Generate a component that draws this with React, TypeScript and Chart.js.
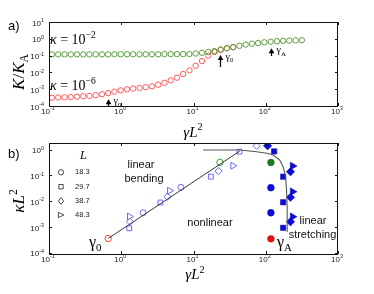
import React, { useEffect, useRef } from 'react';
import { Chart, registerables } from 'chart.js';
Chart.register(...registerables);

const SERIF = '"Liberation Serif","DejaVu Serif",serif';
const SANS = '"Liberation Sans","DejaVu Sans",Arial,sans-serif';

// ---------- panel a data ----------
const gammaL2 = [0.110, 0.134, 0.164, 0.200, 0.244, 0.298, 0.363, 0.443, 0.541, 0.660, 0.805, 0.983, 1.20, 1.46, 1.79, 2.18, 2.66, 3.25, 3.96, 4.83, 5.90, 7.19, 8.78, 10.7, 13.1, 16.0, 19.5, 23.8, 29.0, 35.4, 43.2, 52.7, 64.3, 78.4, 95.7, 117, 143, 174, 212, 259, 316];
const kRatioKappa2 = [0.118, 0.118, 0.118, 0.118, 0.118, 0.118, 0.118, 0.118, 0.118, 0.118, 0.12, 0.12, 0.12, 0.12, 0.12, 0.12, 0.12, 0.12, 0.123, 0.123, 0.123, 0.123, 0.124, 0.133, 0.147, 0.164, 0.188, 0.231, 0.275, 0.325, 0.383, 0.452, 0.511, 0.562, 0.620, 0.672, 0.720, 0.750, 0.781, 0.803, 0.826];
const kRatioKappa6 = [3.1e-4, 3.2e-4, 3.3e-4, 3.4e-4, 3.6e-4, 3.8e-4, 4.0e-4, 4.4e-4, 5.0e-4, 5.9e-4, 7.1e-4, 8.5e-4, 9.9e-4, 1.1e-3, 1.19e-3, 1.32e-3, 1.47e-3, 1.85e-3, 2.4e-3, 3.34e-3, 4.84e-3, 8.0e-3, 1.33e-2, 2.44e-2, 4.77e-2, 0.100, 0.164, 0.215, 0.272, 0.312];
const xDecades = [0.1, 1, 10, 100, 1000];
const yDecadesA = [1e-4, 1e-3, 1e-2, 1e-1, 1, 10];
const yDecadesB = [1e-4, 1e-3, 1e-2, 1e-1, 1];
// arrows in panel a: x, tail y, tip y, subscript
const arrowX = [0.66, 23, 118];
const arrowTail = [1e-4, 0.021, 0.095];
const arrowTip = [2.5e-4, 0.109, 0.272];
const arrowSub = ['0', '0', 'A'];

// ---------- panel b data ----------
const legendL = ['18.3', '29.7', '38.7', '48.3'];
const openCircleX = [2.01, 6.70];
const openCircleY = [3.57e-3, 3.45e-2];
const openSquareX = [1.29, 3.48, 17.4, 43.2];
const openSquareY = [8.9e-4, 8.9e-3, 8.9e-2, 0.83];
const openDiamondX = [1.32, 4.35, 22.3, 74.8];
const openDiamondY = [1.6e-3, 1.49e-2, 0.148, 1.40];
const openTriX = [1.30, 4.67, 35.1];
const openTriY = [2.55e-3, 2.55e-2, 0.237];
const gamma0Red = { x: 0.66, y: 3.6e-4 };
const gamma0Green = { x: 23.2, y: 0.32 };
const filledCircleX = [117.8, 117.8];
const filledCircleY = [3.33e-2, 3.57e-3];
const gammaARed = { x: 117.8, y: 3.5e-4 };
const gammaAGreen = { x: 117.8, y: 0.316 };
const filledSquareX = [130.6, 174, 174, 174];
const filledSquareY = [0.85, 8.9e-2, 9.1e-3, 9.3e-4];
const filledDiamondX = [106, 220, 220, 220];
const filledDiamondY = [1.41, 0.139, 1.41e-2, 1.6e-3];
const filledTriX = [235, 235, 235];
const filledTriY = [0.231, 2.33e-2, 2.5e-3];
const bendingLineX = [0.66, 43.9];
const bendingLineY = [3.6e-4, 0.88];
const stretchCurveX = [13.6, 43.9, 74.6, 103.5, 126.5, 156.6, 174, 188, 194, 197.9, 197.9];
const stretchCurveY = [0.96, 0.96, 0.83, 0.72, 0.62, 0.39, 0.217, 0.089, 0.027, 6e-3, 6.4e-4];

const pts = (xs: number[], ys: number[]) => xs.map((x, i) => ({ x, y: ys[i] }));

type Part = { t: string; it?: boolean; sup?: boolean; sub?: boolean; fam?: string };
function drawParts(ctx: CanvasRenderingContext2D, parts: Part[], x: number, y: number, size: number, fam: string, align: 'left' | 'center' | 'right' = 'left', color = '#000') {
  const fontOf = (p: Part) => `${p.it ? 'italic ' : ''}${p.sup || p.sub ? (size * 0.68).toFixed(1) : size}px ${p.fam || fam}`;
  const ws: number[] = [];
  let w = 0;
  for (const p of parts) { ctx.font = fontOf(p); const m = ctx.measureText(p.t).width; ws.push(m); w += m; }
  let cx = align === 'left' ? x : align === 'center' ? x - w / 2 : x - w;
  ctx.fillStyle = color; ctx.textAlign = 'left'; ctx.textBaseline = 'alphabetic';
  parts.forEach((p, i) => {
    ctx.font = fontOf(p);
    const dy = p.sup ? -size * 0.42 : p.sub ? size * 0.25 : 0;
    ctx.fillText(p.t, cx, y + dy);
    cx += ws[i];
  });
}

function drawFrame(chart: any, yDec: number[]) {
  const { ctx, chartArea: a, scales } = chart;
  ctx.save();
  ctx.strokeStyle = '#111'; ctx.lineWidth = 1;
  ctx.strokeRect(a.left + 0.5, a.top + 0.5, a.right - a.left - 1, a.bottom - a.top);
  ctx.beginPath();
  for (const v of xDecades) {
    const px = Math.round(scales.x.getPixelForValue(v)) + 0.5;
    ctx.moveTo(px, a.bottom); ctx.lineTo(px, a.bottom - 3);
    ctx.moveTo(px, a.top); ctx.lineTo(px, a.top + 3);
  }
  for (const v of yDec) {
    const py = Math.round(scales.y.getPixelForValue(v)) + 0.5;
    ctx.moveTo(a.left, py); ctx.lineTo(a.left + 3, py);
    ctx.moveTo(a.right, py); ctx.lineTo(a.right - 3, py);
  }
  ctx.stroke();
  // tick labels
  for (const v of xDecades) {
    const px = scales.x.getPixelForValue(v);
    const e = Math.round(Math.log10(v));
    drawParts(ctx, [{ t: '10' }, { t: String(e), sup: true }], px - 1, a.bottom + 7.5, 8, SANS, 'center', '#222');
  }
  for (const v of yDec) {
    const py = scales.y.getPixelForValue(v);
    const e = Math.round(Math.log10(v));
    drawParts(ctx, [{ t: '10' }, { t: String(e), sup: true }], a.left - 5, py + 3.5, 8, SANS, 'right', '#222');
  }
  ctx.restore();
}

function drawArrow(ctx: CanvasRenderingContext2D, x: number, yTail: number, yTip: number) {
  ctx.save();
  ctx.strokeStyle = '#000'; ctx.fillStyle = '#000'; ctx.lineWidth = 1.3;
  ctx.beginPath(); ctx.moveTo(x, yTail); ctx.lineTo(x, yTip + 4); ctx.stroke();
  ctx.beginPath(); ctx.moveTo(x, yTip); ctx.lineTo(x - 2.8, yTip + 5); ctx.lineTo(x + 2.8, yTip + 5); ctx.closePath(); ctx.fill();
  ctx.restore();
}

function rotatedTitle(ctx: CanvasRenderingContext2D, parts: Part[], cx: number, cy: number, size: number) {
  ctx.save();
  ctx.translate(cx, cy);
  ctx.rotate(-Math.PI / 2);
  drawParts(ctx, parts, 0, 0, size, SERIF, 'center');
  ctx.restore();
}

const decorA = {
  id: 'decorA',
  afterDraw(chart: any) {
    const { ctx, scales } = chart;
    drawFrame(chart, yDecadesA);
    ctx.save();
    drawParts(ctx, [{ t: 'a)' }], 8, 30, 13, SANS);
    rotatedTitle(ctx, [{ t: 'K', it: true }, { t: '/' }, { t: 'K', it: true }, { t: 'A', sub: true }], 24, 72, 17);
    drawParts(ctx, [{ t: 'γ', it: true }, { t: 'L', it: true }, { t: '2', sup: true }], 193, 136.5, 15, SERIF, 'center');
    drawParts(ctx, [{ t: 'κ', it: true }, { t: ' = 10' }, { t: '−2', sup: true }], 50, 44, 14, SERIF);
    drawParts(ctx, [{ t: 'κ', it: true }, { t: ' = 10' }, { t: '−6', sup: true }], 50, 89.5, 14, SERIF);
    arrowX.forEach((xv, i) => {
      const px = Math.round(scales.x.getPixelForValue(xv)) + 0.5;
      const yT = scales.y.getPixelForValue(arrowTail[i]);
      const yP = scales.y.getPixelForValue(arrowTip[i]);
      drawArrow(ctx, px, yT, yP);
      drawParts(ctx, [{ t: 'γ' }, { t: arrowSub[i], sub: true }], px + 5, yP + 5, 10, SERIF);
    });
    ctx.restore();
  },
};

function marker(ctx: CanvasRenderingContext2D, kind: string, x: number, y: number, r: number) {
  ctx.beginPath();
  if (kind === 'circle') ctx.arc(x, y, r, 0, Math.PI * 2);
  else if (kind === 'square') ctx.rect(x - r, y - r, 2 * r, 2 * r);
  else if (kind === 'diamond') { ctx.moveTo(x, y - r * 1.3); ctx.lineTo(x + r, y); ctx.lineTo(x, y + r * 1.3); ctx.lineTo(x - r, y); ctx.closePath(); }
  else { ctx.moveTo(x - r, y - r); ctx.lineTo(x + r * 1.1, y); ctx.lineTo(x - r, y + r); ctx.closePath(); }
  ctx.stroke();
}

const decorB = {
  id: 'decorB',
  afterDraw(chart: any) {
    const { ctx } = chart;
    drawFrame(chart, yDecadesB);
    ctx.save();
    drawParts(ctx, [{ t: 'b)' }], 8, 158, 13, SANS);
    rotatedTitle(ctx, [{ t: 'κ', it: true }, { t: 'L', it: true }, { t: '2', sup: true }], 24, 201, 17);
    drawParts(ctx, [{ t: 'γ', it: true }, { t: 'L', it: true }, { t: '2', sup: true }], 195, 279, 15, SERIF, 'center');
    // legend
    drawParts(ctx, [{ t: 'L', it: true }], 80, 159, 12, SERIF);
    const kinds = ['circle', 'square', 'diamond', 'tri'];
    const ly = [172.3, 186.7, 201, 215];
    ctx.strokeStyle = '#222'; ctx.lineWidth = 0.8;
    kinds.forEach((k, i) => {
      marker(ctx, k, 61, ly[i], k === 'circle' ? 2.6 : k === 'square' ? 2.2 : 2.6);
      ctx.font = `7.5px ${SANS}`; ctx.fillStyle = '#222'; ctx.textBaseline = 'middle'; ctx.textAlign = 'left';
      ctx.fillText(legendL[i], 75, ly[i]);
    });
    ctx.textBaseline = 'alphabetic';
    ctx.font = `11px ${SANS}`; ctx.fillStyle = '#111'; ctx.textAlign = 'center';
    ctx.fillText('linear', 141, 168);
    ctx.fillText('bending', 144, 182);
    ctx.fillText('nonlinear', 210, 225.5);
    ctx.fillText('linear', 313, 224);
    ctx.fillText('stretching', 312.5, 238);
    drawParts(ctx, [{ t: 'γ' }, { t: '0', sub: true }], 89, 247, 16, SERIF);
    drawParts(ctx, [{ t: 'γ' }, { t: 'A', sub: true }], 277, 247, 16, SERIF);
    ctx.restore();
  },
};

const baseScales = (yMin: number, yMax: number, xH: number) => ({
  x: {
    type: 'logarithmic' as const, min: 0.1, max: 1000,
    grid: { display: false }, border: { display: false }, ticks: { display: false },
    afterFit: (s: any) => { s.height = xH; },
  },
  y: {
    type: 'logarithmic' as const, min: yMin, max: yMax,
    grid: { display: false }, border: { display: false }, ticks: { display: false },
    afterFit: (s: any) => { s.width = 41; },
  },
});

const commonOpts = {
  responsive: false, animation: false as const, devicePixelRatio: 1,
  plugins: { legend: { display: false }, tooltip: { enabled: false } },
  events: [] as any[],
};

const openDs = (data: any[], style: string, color: string, r: number, rot = 0) => ({
  data, pointStyle: style, pointRadius: r, pointRotation: rot, pointBorderWidth: 1,
  pointBorderColor: color, pointBackgroundColor: 'rgba(0,0,0,0)', showLine: false,
});
const filledDs = (data: any[], style: string, color: string, r: number, rot = 0) => ({
  data, pointStyle: style, pointRadius: r, pointRotation: rot, pointBorderWidth: 0.5,
  pointBorderColor: color, pointBackgroundColor: color, showLine: false,
});

export default function App() {
  const refA = useRef<HTMLCanvasElement>(null);
  const refB = useRef<HTMLCanvasElement>(null);
  useEffect(() => {
    const chartA = new Chart(refA.current!, {
      type: 'scatter',
      data: {
        datasets: [
          openDs(pts(gammaL2, kRatioKappa2), 'circle', '#5a9e3a', 2.7) as any,
          openDs(pts(gammaL2.slice(0, kRatioKappa6.length), kRatioKappa6), 'circle', '#ff5a5a', 2.7) as any,
        ],
      },
      options: {
        ...commonOpts,
        layout: { padding: { left: 8, right: 36, top: 22, bottom: 294 - 106 - 26 } },
        scales: baseScales(1e-4, 10, 26) as any,
      } as any,
      plugins: [decorA],
    });
    const blue = '#6a6aff';
    const dark = '#0c0cd0';
    const chartB = new Chart(refB.current!, {
      type: 'scatter',
      data: {
        datasets: [
          { data: pts(bendingLineX, bendingLineY), showLine: true, pointRadius: 0, borderColor: '#222', borderWidth: 0.9 } as any,
          { data: pts(stretchCurveX, stretchCurveY), showLine: true, pointRadius: 0, borderColor: '#555', borderWidth: 1.1, tension: 0 } as any,
          openDs(pts(openCircleX, openCircleY), 'circle', blue, 3) as any,
          openDs(pts(openSquareX, openSquareY), 'rect', blue, 3.4) as any,
          openDs(pts(openDiamondX, openDiamondY), 'rectRot', blue, 3.6) as any,
          openDs(pts(openTriX, openTriY), 'triangle', blue, 4, 90) as any,
          openDs([gamma0Red], 'circle', '#ff3b3b', 3.2) as any,
          openDs([gamma0Green], 'circle', '#3a9a3a', 3.2) as any,
          filledDs(pts(filledCircleX, filledCircleY), 'circle', dark, 3.4) as any,
          filledDs(pts(filledSquareX, filledSquareY), 'rect', dark, 3.8) as any,
          filledDs(pts(filledDiamondX, filledDiamondY), 'rectRot', dark, 4.2) as any,
          filledDs(pts(filledTriX, filledTriY), 'triangle', dark, 4.5, 90) as any,
          filledDs([gammaARed], 'circle', '#e01010', 3.4) as any,
          filledDs([gammaAGreen], 'circle', '#1f7a1f', 3.4) as any,
        ],
      },
      options: {
        ...commonOpts,
        layout: { padding: { left: 8, right: 36, top: 143, bottom: 294 - 254 - 30 } },
        scales: baseScales(9e-5, 1.8, 30) as any,
      } as any,
      plugins: [decorB],
    });
    return () => { chartA.destroy(); chartB.destroy(); };
  }, []);
  const cs: React.CSSProperties = { position: 'absolute', left: 0, top: 0, display: 'block' };
  return (
    <div style={{ position: 'fixed', left: 0, top: 0, width: 374, height: 294, background: '#fff' }}>
      <canvas ref={refA} width={374} height={294} style={cs} />
      <canvas ref={refB} width={374} height={294} style={cs} />
    </div>
  );
}
